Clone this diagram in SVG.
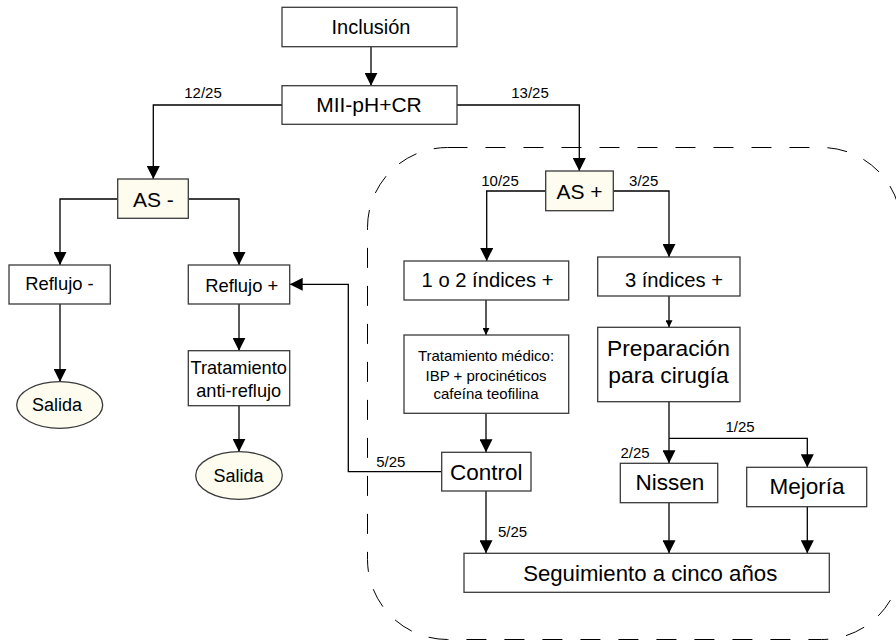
<svg xmlns="http://www.w3.org/2000/svg" width="896" height="642" viewBox="0 0 896 642">
<style>
.box{fill:#ffffff;stroke:#3a3a3a;stroke-width:1.3}
.hl{fill:#fdfcef;stroke:#3a3a3a;stroke-width:1.3}
.t{font-family:"Liberation Sans",Arial,Helvetica,sans-serif;fill:#000;text-anchor:middle}
.lbl{font-size:15px}
.c{fill:none;stroke:#000;stroke-width:1.3}
</style>
<defs>
<marker id="ah" markerUnits="userSpaceOnUse" markerWidth="13" markerHeight="13" refX="13" refY="6.5" orient="auto">
<path d="M0,0 L13,6.5 L0,13 z" fill="#000"/>
</marker>
<marker id="as" markerUnits="userSpaceOnUse" markerWidth="7" markerHeight="7" refX="7" refY="3.5" orient="auto">
<path d="M0,0 L7,3.5 L0,7 z" fill="#000"/>
</marker>
</defs>
<rect x="367.5" y="147.5" width="534" height="492" rx="80" ry="80" fill="none" stroke="#000" stroke-width="1" stroke-dasharray="20 18"/>
<g id="connectors">
<path class="c" d="M371,47 V85.7" marker-end="url(#ah)"/>
<path class="c" d="M282,105 H153.3 V179" marker-end="url(#ah)"/>
<path class="c" d="M457,105 H579.3 V171" marker-end="url(#ah)"/>
<path class="c" d="M117.7,199 H60 V265" marker-end="url(#ah)"/>
<path class="c" d="M188.3,199 H239 V265" marker-end="url(#ah)"/>
<path class="c" d="M60,304 V381.7" marker-end="url(#ah)"/>
<path class="c" d="M239,304 V350.7" marker-end="url(#ah)"/>
<path class="c" d="M239,405.7 V451.7" marker-end="url(#ah)"/>
<path class="c" d="M545.7,191 H486.7 V261" marker-end="url(#ah)"/>
<path class="c" d="M613.3,191 H669 V257" marker-end="url(#ah)"/>
<path class="c" d="M486,300 V335" marker-end="url(#as)"/>
<path class="c" d="M669,296 V327.3" marker-end="url(#as)"/>
<path class="c" d="M486,413.3 V452.3" marker-end="url(#ah)"/>
<path class="c" d="M441.7,471.7 H348.3 V284.3 H289.7" marker-end="url(#ah)"/>
<path class="c" d="M486,491 V553.3" marker-end="url(#ah)"/>
<path class="c" d="M669,401.7 V463.3" marker-end="url(#ah)"/>
<path class="c" d="M669,438.3 H807.3 V467.3" marker-end="url(#ah)"/>
<path class="c" d="M669,502.7 V553.3" marker-end="url(#ah)"/>
<path class="c" d="M807.3,506.7 V553.3" marker-end="url(#ah)"/>
<text class="t lbl" x="203" y="98">12/25</text>
<text class="t lbl" x="530" y="98">13/25</text>
<text class="t lbl" x="500" y="185.5">10/25</text>
<text class="t lbl" x="643.7" y="185.5">3/25</text>
<text class="t lbl" x="390.8" y="466.5">5/25</text>
<text class="t lbl" x="512.5" y="537.3">5/25</text>
<text class="t lbl" x="740" y="431.5">1/25</text>
<text class="t lbl" x="635" y="458.3">2/25</text>
</g>
<g id="inclusion">
<rect class="box" x="282" y="7.3" width="175" height="39.4"/>
<text class="t" x="371" y="33.5" font-size="20">Inclusión</text>
</g>
<g id="mii">
<rect class="box" x="282" y="85.7" width="175" height="38.6"/>
<text class="t" x="369" y="112.3" font-size="21">MII-pH+CR</text>
</g>
<g id="as-minus">
<rect class="hl" x="117.7" y="179" width="70.6" height="39.3"/>
<text class="t" x="153.3" y="206.7" font-size="21">AS -</text>
</g>
<g id="reflujo-minus">
<rect class="box" x="9" y="265" width="101.3" height="39"/>
<text class="t" x="59.5" y="290" font-size="18.4">Reflujo -</text>
</g>
<g id="reflujo-plus">
<rect class="box" x="188.3" y="265" width="101.4" height="39"/>
<text class="t" x="241.7" y="291.5" font-size="18.4">Reflujo +</text>
</g>
<g id="salida1">
<ellipse class="hl" cx="59.7" cy="405" rx="43" ry="23.3"/>
<text class="t" x="57" y="411" font-size="18">Salida</text>
</g>
<g id="tratamiento-anti">
<rect class="box" x="188.3" y="350.7" width="101.4" height="55"/>
<text class="t" x="238.7" y="374" font-size="18.2">Tratamiento</text>
<text class="t" x="238.7" y="396.7" font-size="18.2">anti-reflujo</text>
</g>
<g id="salida2">
<ellipse class="hl" cx="239" cy="475.5" rx="43.3" ry="23.8"/>
<text class="t" x="238.5" y="481.7" font-size="18">Salida</text>
</g>
<g id="as-plus">
<rect class="hl" x="545.7" y="171" width="67.6" height="39.7"/>
<text class="t" x="579.5" y="198.5" font-size="21">AS +</text>
</g>
<g id="indices12">
<rect class="box" x="404" y="261" width="164.7" height="39"/>
<text class="t" x="487.5" y="286.7" font-size="20.2">1 o 2 índices +</text>
</g>
<g id="indices3">
<rect class="box" x="597.7" y="257" width="142.3" height="39"/>
<text class="t" x="674" y="286.7" font-size="20.2">3 índices +</text>
</g>
<g id="tratamiento-medico">
<rect class="box" x="404" y="335" width="164.7" height="78.3"/>
<text class="t" x="486" y="361" font-size="15">Tratamiento médico:</text>
<text class="t" x="486" y="380.7" font-size="15">IBP + procinéticos</text>
<text class="t" x="486" y="399.3" font-size="15">cafeína teofilina</text>
</g>
<g id="preparacion">
<rect class="box" x="597.7" y="327.3" width="142.3" height="74.4"/>
<text class="t" x="668.5" y="356" font-size="22.8">Preparación</text>
<text class="t" x="668.5" y="383.3" font-size="22.8">para cirugía</text>
</g>
<g id="control">
<rect class="box" x="441.7" y="452.3" width="89.3" height="38.7"/>
<text class="t" x="486.3" y="480" font-size="22.5">Control</text>
</g>
<g id="nissen">
<rect class="box" x="620.3" y="463.3" width="97.4" height="39.4"/>
<text class="t" x="670" y="490" font-size="22.5">Nissen</text>
</g>
<g id="mejoria">
<rect class="box" x="746.7" y="467.3" width="120" height="39.4"/>
<text class="t" x="807" y="494" font-size="22.5">Mejoría</text>
</g>
<g id="seguimiento">
<rect class="box" x="464" y="553.3" width="365.3" height="39"/>
<text class="t" x="650.2" y="581" font-size="22.2">Seguimiento a cinco años</text>
</g>
</svg>
